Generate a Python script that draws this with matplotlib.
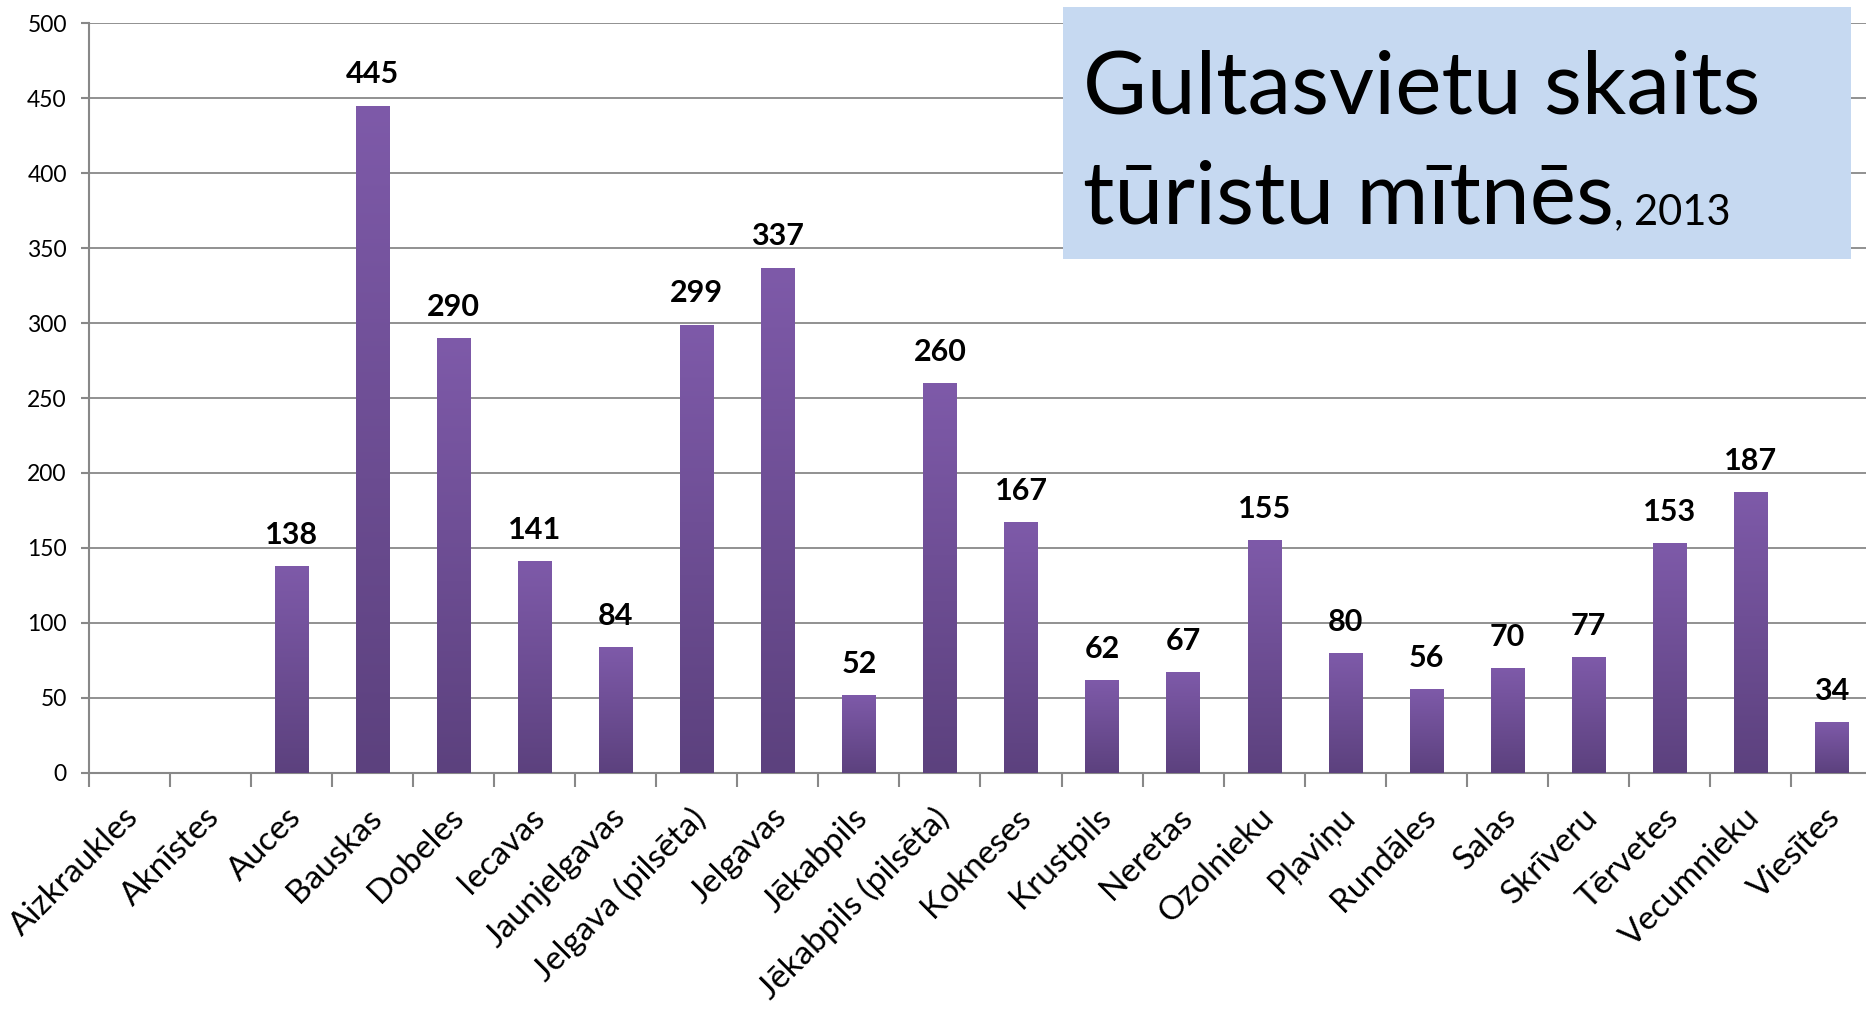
import numpy as np
import matplotlib.pyplot as plt
from matplotlib.colors import LinearSegmentedColormap
from matplotlib.patches import Rectangle
from matplotlib.transforms import ScaledTranslation

plt.rcParams['font.family'] = ['Lato', 'DejaVu Sans']

# gultasvietu skaits turistu mitnes, 2013
novadi = ['Aizkraukles', 'Aknīstes', 'Auces', 'Bauskas', 'Dobeles', 'Iecavas',
          'Jaunjelgavas', 'Jelgava (pilsēta)', 'Jelgavas', 'Jēkabpils',
          'Jēkabpils (pilsēta)', 'Kokneses', 'Krustpils', 'Neretas', 'Ozolnieku',
          'Pļaviņu', 'Rundāles', 'Salas', 'Skrīveru', 'Tērvetes', 'Vecumnieku', 'Viesītes']
gultasvietas = [0, 0, 138, 445, 290, 141, 84, 299, 337, 52, 260, 167, 62, 67, 155,
                80, 56, 70, 77, 153, 187, 34]
yticks = np.arange(0, 501, 50)

fig = plt.figure(figsize=(18.66, 10.09), dpi=100)
ax = fig.add_axes([0.0477, 0.2339, 0.9555, 0.7433])

x = np.arange(len(novadi))
bars = ax.bar(x, gultasvietas, width=0.41, color='#6E4E96', zorder=2)

# excel-like vertical gradient on the bars
grad = LinearSegmentedColormap.from_list('purp', ['#5C417E', '#7E5AA9'])
g = np.linspace(0, 1, 256).reshape(-1, 1)
for b in bars:
    if b.get_height() == 0:
        continue
    im = ax.imshow(g, cmap=grad, origin='lower', aspect='auto', zorder=3,
                   extent=[b.get_x(), b.get_x() + b.get_width(), 0, b.get_height()])
    im.set_clip_path(b)

for xi, v in zip(x, gultasvietas):
    if v > 0:
        ax.annotate(str(v), (xi, v), xytext=(0, 16), textcoords='offset points',
                    ha='center', va='baseline', fontsize=22, fontweight='bold')

ax.set_xlim(-0.5, len(novadi) - 0.5)
ax.set_ylim(0, 500)
ax.set_yticks(yticks)
ax.set_xticks(x)
ax.set_xticklabels(novadi, rotation=45, ha='right', fontsize=24)
ax.set_xticks(np.arange(len(novadi) + 1) - 0.5, minor=True)
ax.tick_params(axis='x', which='major', length=0, pad=21)
ax.tick_params(axis='x', which='minor', length=10, color='#888888', width=1.5)
ax.tick_params(axis='y', length=6, color='#888888', width=1.5, labelsize=16.5, pad=10)
shift = ScaledTranslation(11 / 72, 0, fig.dpi_scale_trans)
for lab in ax.get_xticklabels():
    lab.set_transform(lab.get_transform() + shift)
ax.grid(axis='y', color='#888888', lw=1.3)
ax.set_axisbelow(True)
for s in ['top', 'right']:
    ax.spines[s].set_visible(False)
for s in ['left', 'bottom']:
    ax.spines[s].set_color('#888888')
    ax.spines[s].set_linewidth(1.5)

# title box
fig.add_artist(Rectangle((0.5697, 0.7433), 0.4223, 0.2497, transform=fig.transFigure,
                         facecolor='#C6D9F1', edgecolor='none', zorder=5))
fig.text(0.5804, 0.888, 'Gultasvietu skaits', fontsize=63, va='baseline', zorder=6)
t2 = fig.text(0.5804, 0.778, 'tūristu mītnēs', fontsize=63, va='baseline', zorder=6)
fig.canvas.draw()
bb = t2.get_window_extent()
fig.text(bb.x1 / fig.bbox.width, 0.778, ', 2013', fontsize=30, va='baseline', zorder=6)

fig.savefig('out.png', dpi=100)
